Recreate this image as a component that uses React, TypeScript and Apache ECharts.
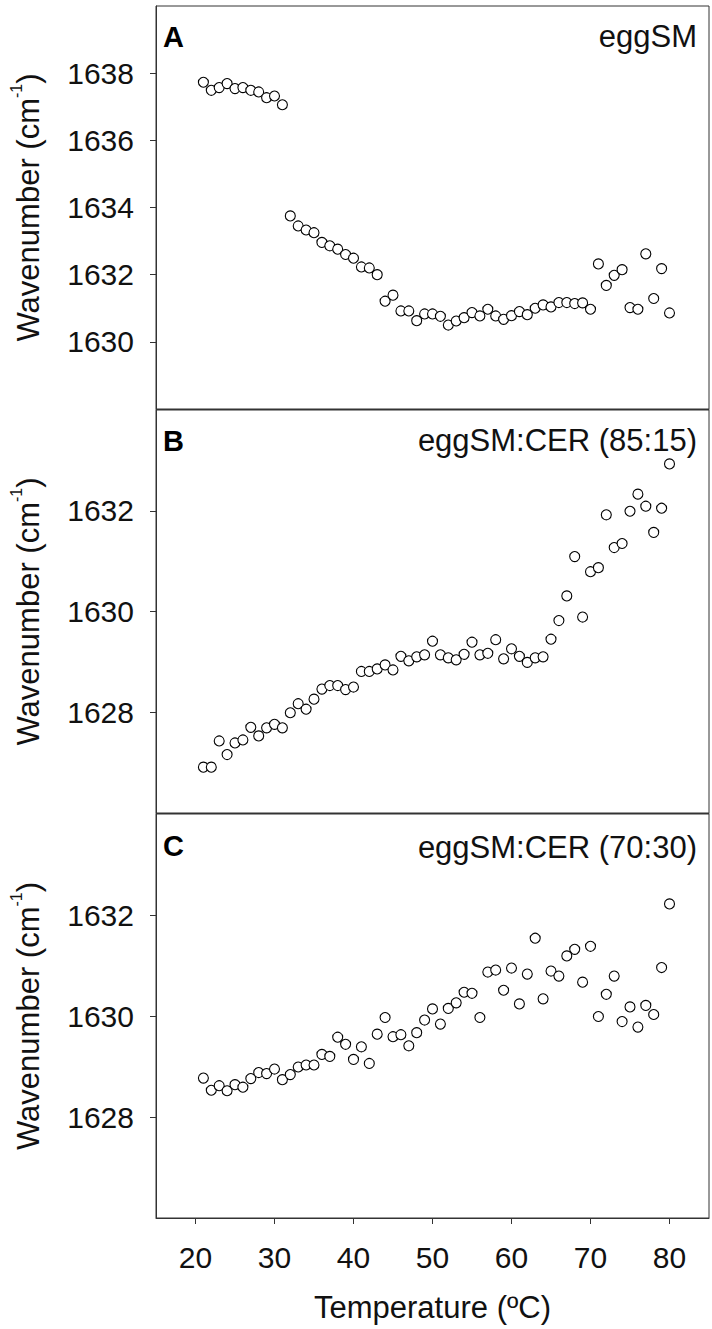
import React, { useEffect, useRef } from "react";
import * as echarts from "echarts";

const temps = [
  21, 22, 23, 24, 25, 26, 27, 28, 29, 30, 31, 32, 33, 34, 35, 36, 37, 38, 39, 40,
  41, 42, 43, 44, 45, 46, 47, 48, 49, 50, 51, 52, 53, 54, 55, 56, 57, 58, 59, 60,
  61, 62, 63, 64, 65, 66, 67, 68, 69, 70, 71, 72, 73, 74, 75, 76, 77, 78, 79, 80,
];

const eggSM = [
  1637.73, 1637.49, 1637.57, 1637.69, 1637.54, 1637.57, 1637.49, 1637.44, 1637.27, 1637.32,
  1637.06, 1633.75, 1633.45, 1633.33, 1633.25, 1632.96, 1632.86, 1632.76, 1632.6, 1632.49,
  1632.23, 1632.2, 1632.0, 1631.21, 1631.39, 1630.92, 1630.92, 1630.63, 1630.83, 1630.83,
  1630.76, 1630.5, 1630.62, 1630.72, 1630.87, 1630.77, 1630.97, 1630.77, 1630.67, 1630.78,
  1630.9, 1630.81, 1631.0, 1631.1, 1631.04, 1631.17, 1631.17, 1631.14, 1631.16, 1630.97,
  1632.32, 1631.68, 1631.98, 1632.15, 1631.02, 1630.97, 1632.62, 1631.29, 1632.18, 1630.86,
];

const cer85 = [
  1626.91, 1626.91, 1627.43, 1627.16, 1627.39, 1627.45, 1627.7, 1627.53, 1627.69, 1627.76,
  1627.69, 1627.99, 1628.17, 1628.06, 1628.26, 1628.46, 1628.53, 1628.53, 1628.45, 1628.5,
  1628.81, 1628.81, 1628.86, 1628.94, 1628.84, 1629.11, 1629.02, 1629.1, 1629.14, 1629.41,
  1629.14, 1629.08, 1629.04, 1629.15, 1629.39, 1629.14, 1629.17, 1629.44, 1629.06, 1629.26,
  1629.11, 1628.99, 1629.08, 1629.1, 1629.45, 1629.82, 1630.31, 1631.09, 1629.89, 1630.79,
  1630.87, 1631.92, 1631.27, 1631.35, 1631.99, 1632.33, 1632.09, 1631.57, 1632.05, 1632.93,
];

const cer70 = [
  1628.77, 1628.53, 1628.62, 1628.52, 1628.64, 1628.59, 1628.76, 1628.88, 1628.86, 1628.95,
  1628.74, 1628.84, 1628.99, 1629.03, 1629.03, 1629.24, 1629.2, 1629.58, 1629.44, 1629.14,
  1629.39, 1629.06, 1629.64, 1629.97, 1629.59, 1629.63, 1629.41, 1629.67, 1629.92, 1630.14,
  1629.84, 1630.15, 1630.26, 1630.47, 1630.45, 1629.97, 1630.87, 1630.91, 1630.51, 1630.95,
  1630.24, 1630.83, 1631.54, 1630.34, 1630.89, 1630.79, 1631.19, 1631.32, 1630.67, 1631.38,
  1629.99, 1630.43, 1630.79, 1629.89, 1630.18, 1629.78, 1630.21, 1630.03, 1630.96, 1632.22,
];

const xTicks = [20, 30, 40, 50, 60, 70, 80];
const panelLetters = ["A", "B", "C"];
const panelTitles = ["eggSM", "eggSM:CER (85:15)", "eggSM:CER (70:30)"];
const xAxisName = "Temperature (ºC)";
const yAxisName = "Wavenumber (cm{sup|-1})";

const FONT = "'Liberation Sans', Arial, Helvetica, sans-serif";
const AXIS_COLOR = "#333";
const TEXT_COLOR = "#111";

const panels = [
  { top: 6, height: 403, min: 1628, max: 1640, data: eggSM, labelY: 36.5, titleY: 36.5 },
  { top: 410, height: 403, min: 1626, max: 1634, data: cer85, labelY: 440.5, titleY: 440.5 },
  { top: 814, height: 404, min: 1626, max: 1634, data: cer70, labelY: 845.5, titleY: 847 },
];

export default function App() {
  const ref = useRef<HTMLDivElement>(null);

  useEffect(() => {
    if (!ref.current) return;
    const chart = echarts.init(ref.current, null, { renderer: "svg" });
    const last = panels.length - 1;

    const option: any = {
      animation: false,
      backgroundColor: "#fff",
      grid: panels.map((p) => ({
        left: 150,
        right: 3,
        top: p.top,
        height: p.height,
        show: true,
        borderColor: AXIS_COLOR,
        borderWidth: 1,
        backgroundColor: "transparent",
        containLabel: false,
      })),
      xAxis: panels.map((p, i) => ({
        type: "value",
        gridIndex: i,
        min: 15,
        max: 85,
        axisLine: { show: true, onZero: false, lineStyle: { color: AXIS_COLOR, width: 1 } },
        axisTick: {
          show: i === last,
          customValues: xTicks,
          length: 6,
          lineStyle: { color: AXIS_COLOR, width: 1 },
        },
        axisLabel: {
          show: i === last,
          customValues: xTicks,
          margin: 24,
          fontSize: 30,
          color: TEXT_COLOR,
          fontFamily: FONT,
          formatter: (v: number) => String(v),
        },
        splitLine: { show: false },
        name: i === last ? xAxisName : "",
        nameLocation: "middle",
        nameGap: 74,
        nameTextStyle: { fontSize: 31, color: TEXT_COLOR, fontFamily: FONT, lineHeight: 31 },
      })),
      yAxis: panels.map((p, i) => ({
        type: "value",
        gridIndex: i,
        min: p.min,
        max: p.max,
        interval: 2,
        axisLine: { show: true, lineStyle: { color: AXIS_COLOR, width: 1 } },
        axisTick: { show: true, length: 6, lineStyle: { color: AXIS_COLOR, width: 1 } },
        axisLabel: {
          showMinLabel: false,
          showMaxLabel: false,
          margin: 22,
          fontSize: 30,
          color: TEXT_COLOR,
          fontFamily: FONT,
          formatter: (v: number) => String(v),
        },
        splitLine: { show: false },
        name: yAxisName,
        nameLocation: "middle",
        nameGap: 108,
        nameTextStyle: {
          fontSize: 31,
          color: TEXT_COLOR,
          fontFamily: FONT,
          lineHeight: 40,
          rich: {
            sup: { fontSize: 16, lineHeight: 12, verticalAlign: "top", color: TEXT_COLOR, fontFamily: FONT },
          },
        },
      })),
      series: panels.map((p, i) => ({
        type: "scatter",
        xAxisIndex: i,
        yAxisIndex: i,
        symbol: "circle",
        symbolSize: 10,
        itemStyle: { color: "#fff", borderColor: "#000", borderWidth: 1.1, opacity: 1 },
        data: temps.map((t, k) => [t, p.data[k]]),
        silent: true,
      })),
      graphic: [
        ...panels.map((p, i) => ({
          type: "text",
          x: 163,
          y: p.labelY,
          silent: true,
          style: {
            text: panelLetters[i],
            fontSize: 29,
            fontWeight: "bold",
            fontFamily: FONT,
            fill: "#000",
            align: "left",
            verticalAlign: "middle",
          },
        })),
        ...panels.map((p, i) => ({
          type: "text",
          x: 697,
          y: p.titleY,
          silent: true,
          style: {
            text: panelTitles[i],
            fontSize: 31,
            fontFamily: FONT,
            fill: TEXT_COLOR,
            align: "right",
            verticalAlign: "middle",
          },
        })),
      ],
    };

    chart.setOption(option);
    return () => chart.dispose();
  }, []);

  return (
    <div
      ref={ref}
      style={{ position: "absolute", left: 0, top: 0, width: 712, height: 1329, background: "#fff" }}
    />
  );
}
